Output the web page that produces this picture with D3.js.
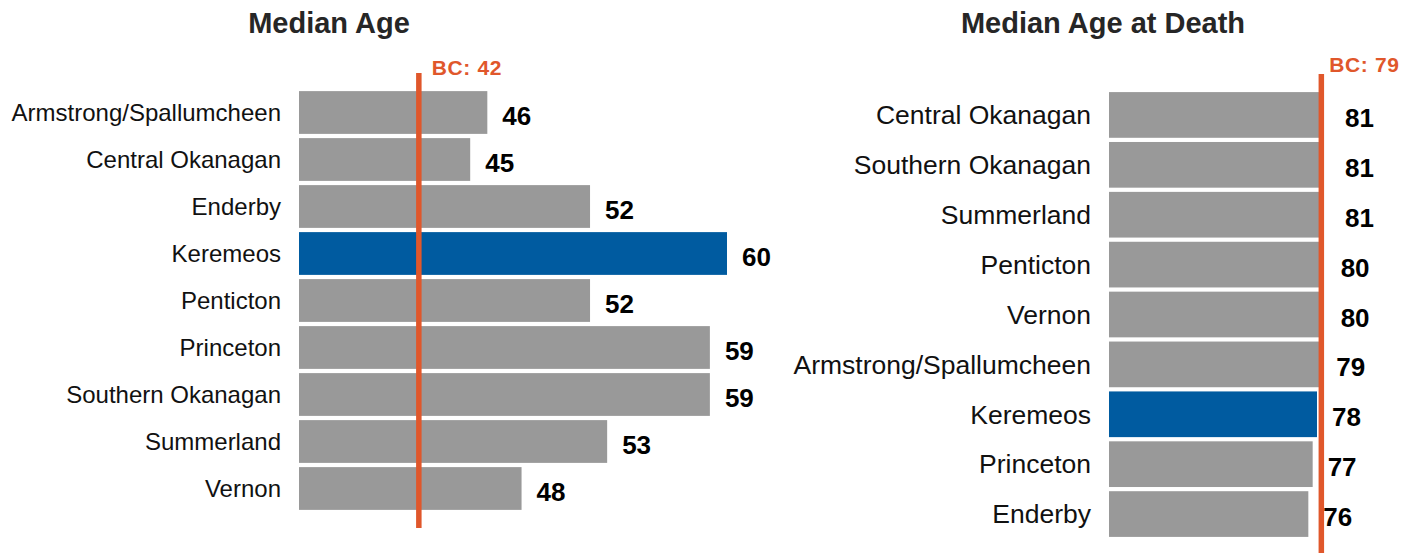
<!DOCTYPE html>
<html>
<head>
<meta charset="utf-8">
<script src="https://cdn.jsdelivr.net/npm/d3@7"></script>
<style>
  body { margin: 0; background: #fff; }
  svg { display: block; font-family: Arial, "Liberation Sans", sans-serif; }
</style>
</head>
<body>
<div id="chart"></div>
<script>
// data
const ageRegions = ['Armstrong/Spallumcheen', 'Central Okanagan', 'Enderby', 'Keremeos', 'Penticton',
  'Princeton', 'Southern Okanagan', 'Summerland', 'Vernon'];
const ageValues = [46, 45, 52, 60, 52, 59, 59, 53, 48];
const ageBC = 42;

const deathRegions = ['Central Okanagan', 'Southern Okanagan', 'Summerland', 'Penticton', 'Vernon',
  'Armstrong/Spallumcheen', 'Keremeos', 'Princeton', 'Enderby'];
const deathValues = [81, 81, 81, 80, 80, 79, 78, 77, 76];
const deathBC = 79;

const highlight = 'Keremeos';

const W = 1418, H = 553;
const grey = '#999999', blue = '#005ba0', orange = '#e0572b';
const lineW = 5.5;

const svg = d3.select('#chart').append('svg')
  .attr('width', W)
  .attr('height', H);

// one horizontal bar panel
function panel(opts) {
  const { title, titleX, regions, values, bc, xDomain, xRange, yRange, pad,
          labelSize, clipAtLine, bcDx, bcDy } = opts;
  const data = regions.map((r, i) => ({ region: r, value: values[i] }));

  const x = d3.scaleLinear().domain(xDomain).range(xRange);
  const y = d3.scaleBand().domain(regions).range(yRange)
    .paddingInner(pad).paddingOuter(pad / 2);

  const g = svg.append('g');

  // title
  g.append('text')
    .attr('x', titleX)
    .attr('y', 33)
    .attr('text-anchor', 'middle')
    .style('font-size', '29px')
    .style('font-weight', 'bold')
    .style('fill', '#262626')
    .text(title);

  // plot area ends at the BC line on the right panel, so bars past it are cut
  const clipId = 'clip-' + title.replace(/\s/g, '');
  const maxX = clipAtLine ? x(bc) + lineW / 2 : W;
  g.append('clipPath').attr('id', clipId)
    .append('rect')
    .attr('x', xRange[0])
    .attr('y', 0)
    .attr('width', maxX - xRange[0])
    .attr('height', H);

  // bars
  g.append('g')
    .attr('clip-path', `url(#${clipId})`)
    .selectAll('rect')
    .data(data)
    .join('rect')
    .attr('x', x(xDomain[0]))
    .attr('y', d => y(d.region))
    .attr('width', d => x(d.value) - x(xDomain[0]))
    .attr('height', y.bandwidth())
    .attr('fill', d => d.region === highlight ? blue : grey);

  // category labels
  g.selectAll('.cat')
    .data(data)
    .join('text')
    .attr('class', 'cat')
    .attr('x', x(xDomain[0]) - 18)
    .attr('y', d => y(d.region) + y.bandwidth() / 2)
    .attr('dy', '0.35em')
    .attr('text-anchor', 'end')
    .style('font-size', labelSize + 'px')
    .style('fill', '#111')
    .text(d => d.region);

  // BC reference line
  g.append('line')
    .attr('x1', x(bc))
    .attr('x2', x(bc))
    .attr('y1', yRange[0] - 16)
    .attr('y2', yRange[1] + 16)
    .attr('stroke', orange)
    .attr('stroke-width', lineW);

  g.append('text')
    .attr('x', x(bc) + bcDx)
    .attr('y', yRange[0] - bcDy)
    .style('font-size', '21px')
    .style('font-weight', 'bold')
    .style('letter-spacing', '0.6px')
    .style('fill', orange)
    .text('BC: ' + bc);

  // value labels
  g.selectAll('.val')
    .data(data)
    .join('text')
    .attr('class', 'val')
    .attr('x', d => x(d.value) + 15)
    .attr('y', d => y(d.region) + y.bandwidth() / 2 + 12)
    .style('font-size', '26px')
    .style('font-weight', 'bold')
    .style('fill', '#000')
    .text(d => d.value);
}

panel({
  title: 'Median Age', titleX: 329,
  regions: ageRegions, values: ageValues, bc: ageBC,
  xDomain: [35, 60], xRange: [299, 727], yRange: [89, 512], pad: 0.09,
  labelSize: 24, clipAtLine: false, bcDx: 13, bcDy: 14
});

panel({
  title: 'Median Age at Death', titleX: 1103,
  regions: deathRegions, values: deathValues, bc: deathBC,
  xDomain: [30, 81], xRange: [1109, 1330], yRange: [90, 539], pad: 0.084,
  labelSize: 26.5, clipAtLine: true, bcDx: 8, bcDy: 18
});
</script>
</body>
</html>
